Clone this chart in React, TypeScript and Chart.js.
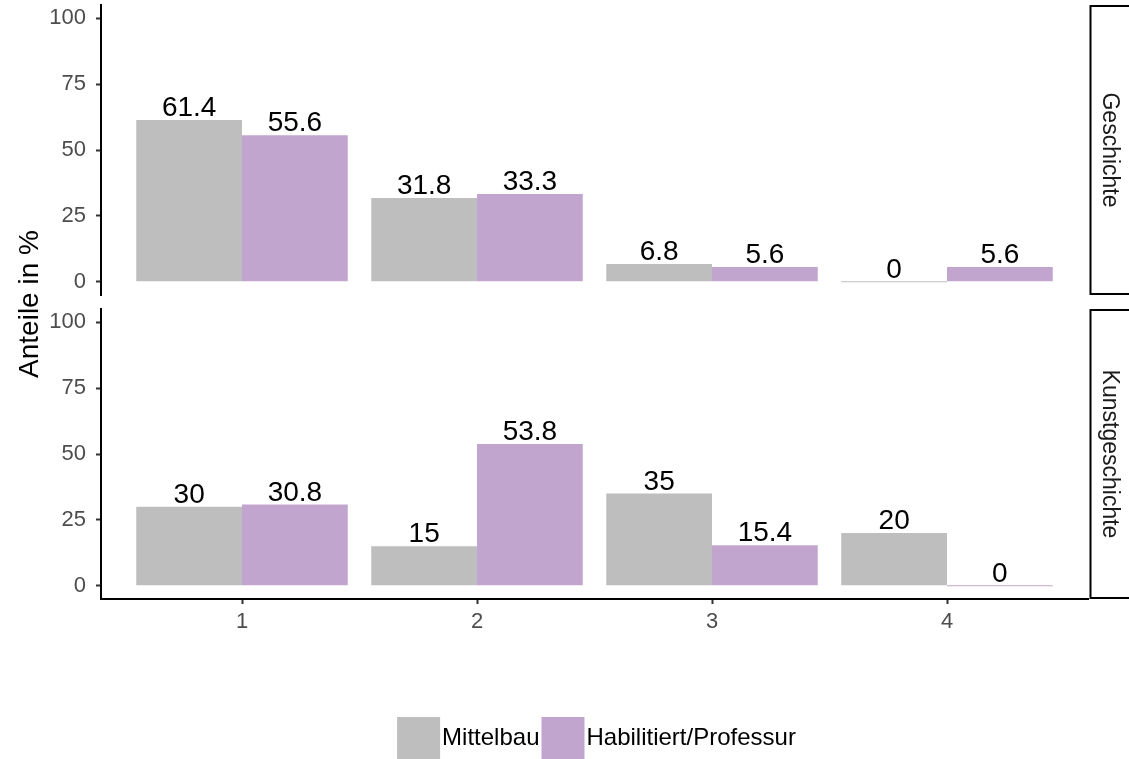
import React, { useEffect, useRef } from 'react';
import { Chart, registerables } from 'chart.js';

Chart.register(...registerables);

const CATEGORIES = [1, 2, 3, 4];
const X_LABELS = ['1', '2', '3', '4'];
const SERIES = ['Mittelbau', 'Habilitiert/Professur'];
const FACETS = ['Geschichte', 'Kunstgeschichte'];
const GESCHICHTE_MITTELBAU = [61.4, 31.8, 6.8, 0];
const GESCHICHTE_HABIL = [55.6, 33.3, 5.6, 5.6];
const KUNST_MITTELBAU = [30, 15, 35, 20];
const KUNST_HABIL = [30.8, 53.8, 15.4, 0];
const Y_TICKS = [0, 25, 50, 75, 100];
const Y_TITLE = 'Anteile in %';
const COLORS = ['#BEBEBE', '#C2A5CF'];

const FONT = '"Liberation Sans", Arial, Helvetica, sans-serif';
const W = 1129;
const H = 759;

const dataLabels = {
  id: 'dataLabels',
  afterDatasetsDraw(chart: any) {
    const ctx = chart.ctx;
    const yScale = chart.scales.y;
    ctx.save();
    ctx.font = `28px ${FONT}`;
    ctx.fillStyle = '#000000';
    ctx.textAlign = 'center';
    ctx.textBaseline = 'alphabetic';
    chart.data.datasets.forEach((ds: any, di: number) => {
      const meta = chart.getDatasetMeta(di);
      meta.data.forEach((el: any, i: number) => {
        const v = ds.data[i].y;
        const py = yScale.getPixelForValue(v);
        ctx.fillText(String(v), el.x, py - 4);
      });
    });
    ctx.restore();
  },
};

const stripPlugin = (label: string) => ({
  id: 'strip_' + label,
  afterDraw(chart: any) {
    const ctx = chart.ctx;
    const ca = chart.chartArea;
    const x0 = ca.right + 2.5;
    const y0 = ca.top + 1;
    const h = ca.bottom - ca.top - 2;
    ctx.save();
    ctx.lineWidth = 2;
    ctx.strokeStyle = '#000000';
    ctx.strokeRect(x0, y0, 80, h);
    ctx.translate((x0 + chart.width) / 2, (ca.top + ca.bottom) / 2);
    ctx.rotate(Math.PI / 2);
    ctx.font = `23px ${FONT}`;
    ctx.fillStyle = '#1A1A1A';
    ctx.textAlign = 'center';
    ctx.textBaseline = 'middle';
    ctx.fillText(label, 0, 0);
    ctx.restore();
  },
});

const yTitlePlugin = {
  id: 'yTitle',
  afterDraw(chart: any) {
    const ctx = chart.ctx;
    ctx.save();
    ctx.translate(38, 304);
    ctx.rotate(-Math.PI / 2);
    ctx.font = `28px ${FONT}`;
    ctx.fillStyle = '#000000';
    ctx.textAlign = 'center';
    ctx.textBaseline = 'alphabetic';
    ctx.fillText(Y_TITLE, 0, 0);
    ctx.restore();
  },
};

const legendPlugin = {
  id: 'customLegend',
  afterDraw(chart: any) {
    const ctx = chart.ctx;
    const ca = chart.chartArea;
    const box = 43;
    const gap = 2;
    const spacing = 2;
    ctx.save();
    ctx.font = `24px ${FONT}`;
    const items = chart.data.datasets.map((ds: any) => ({
      label: ds.label,
      color: ds.backgroundColor,
      w: ctx.measureText(ds.label).width,
    }));
    const total = items.reduce((s: number, it: any) => s + box + gap + it.w, 0) + spacing * (items.length - 1);
    let x = (ca.left + ca.right) / 2 + 2 - total / 2;
    const top = ca.bottom + 118;
    ctx.textAlign = 'left';
    ctx.textBaseline = 'middle';
    items.forEach((it: any) => {
      ctx.fillStyle = it.color;
      ctx.fillRect(x, top, box, box);
      ctx.fillStyle = '#000000';
      ctx.fillText(it.label, x + box + gap, top + box / 2);
      x += box + gap + it.w + spacing;
    });
    ctx.restore();
  },
};

function makeConfig(mittel: number[], habil: number[], bottom: boolean, plugins: any[]) {
  return {
    type: 'bar',
    data: {
      datasets: [
        {
          label: SERIES[0],
          data: CATEGORIES.map((c, i) => ({ x: c, y: mittel[i] })),
          backgroundColor: COLORS[0],
          borderWidth: 0,
          minBarLength: 1,
          categoryPercentage: 0.9,
          barPercentage: 1.0,
        },
        {
          label: SERIES[1],
          data: CATEGORIES.map((c, i) => ({ x: c, y: habil[i] })),
          backgroundColor: COLORS[1],
          borderWidth: 0,
          minBarLength: 1,
          categoryPercentage: 0.9,
          barPercentage: 1.0,
        },
      ],
    },
    options: {
      animation: false,
      responsive: false,
      maintainAspectRatio: false,
      layout: {
        padding: bottom
          ? { left: 0, top: 309, right: W - 1088, bottom: 0 }
          : { left: 0, top: 5, right: W - 1088, bottom: H - 295 },
      },
      plugins: {
        legend: { display: false },
        tooltip: { enabled: false },
      },
      scales: {
        x: {
          type: 'linear',
          display: bottom,
          min: 0.4,
          max: 4.6,
          offset: false,
          afterBuildTicks: (scale: any) => {
            scale.ticks = CATEGORIES.map((v) => ({ value: v }));
          },
          afterFit: (scale: any) => {
            scale.height = bottom ? H - 599 : 0;
            scale.paddingLeft = 0;
            scale.paddingRight = 0;
          },
          ticks: {
            autoSkip: false,
            maxRotation: 0,
            padding: 5,
            color: '#4D4D4D',
            font: { family: FONT, size: 22 },
            callback: (_v: any, i: number) => X_LABELS[i],
          },
          grid: {
            display: true,
            offset: false,
            drawOnChartArea: false,
            drawTicks: true,
            tickLength: 5,
            tickWidth: 2,
            tickColor: '#333333',
          },
          border: { display: true, color: '#000000', width: 2 },
        },
        y: {
          type: 'linear',
          min: -5,
          max: 105,
          afterBuildTicks: (scale: any) => {
            scale.ticks = Y_TICKS.map((v) => ({ value: v }));
          },
          afterFit: (scale: any) => {
            scale.width = 101;
            scale.paddingTop = 0;
            scale.paddingBottom = 0;
          },
          ticks: {
            padding: 10,
            color: '#4D4D4D',
            font: { family: FONT, size: 22 },
          },
          grid: {
            display: true,
            drawOnChartArea: false,
            drawTicks: true,
            tickLength: 5,
            tickWidth: 2,
            tickColor: '#333333',
          },
          border: { display: true, color: '#000000', width: 2 },
        },
      },
    },
    plugins: [dataLabels, ...plugins],
  };
}

export default function App() {
  const topRef = useRef<HTMLCanvasElement>(null);
  const botRef = useRef<HTMLCanvasElement>(null);

  useEffect(() => {
    const c1 = new Chart(
      topRef.current as HTMLCanvasElement,
      makeConfig(GESCHICHTE_MITTELBAU, GESCHICHTE_HABIL, false, [stripPlugin(FACETS[0]), yTitlePlugin]) as any
    );
    const c2 = new Chart(
      botRef.current as HTMLCanvasElement,
      makeConfig(KUNST_MITTELBAU, KUNST_HABIL, true, [stripPlugin(FACETS[1]), legendPlugin]) as any
    );
    return () => {
      c1.destroy();
      c2.destroy();
    };
  }, []);

  const canvasStyle: React.CSSProperties = { position: 'absolute', left: 0, top: 0, width: W, height: H };
  return (
    <div style={{ position: 'absolute', left: 0, top: 0, width: W, height: H, overflow: 'hidden', background: '#FFFFFF' }}>
      <canvas ref={topRef} width={W} height={H} style={canvasStyle} />
      <canvas ref={botRef} width={W} height={H} style={canvasStyle} />
    </div>
  );
}
